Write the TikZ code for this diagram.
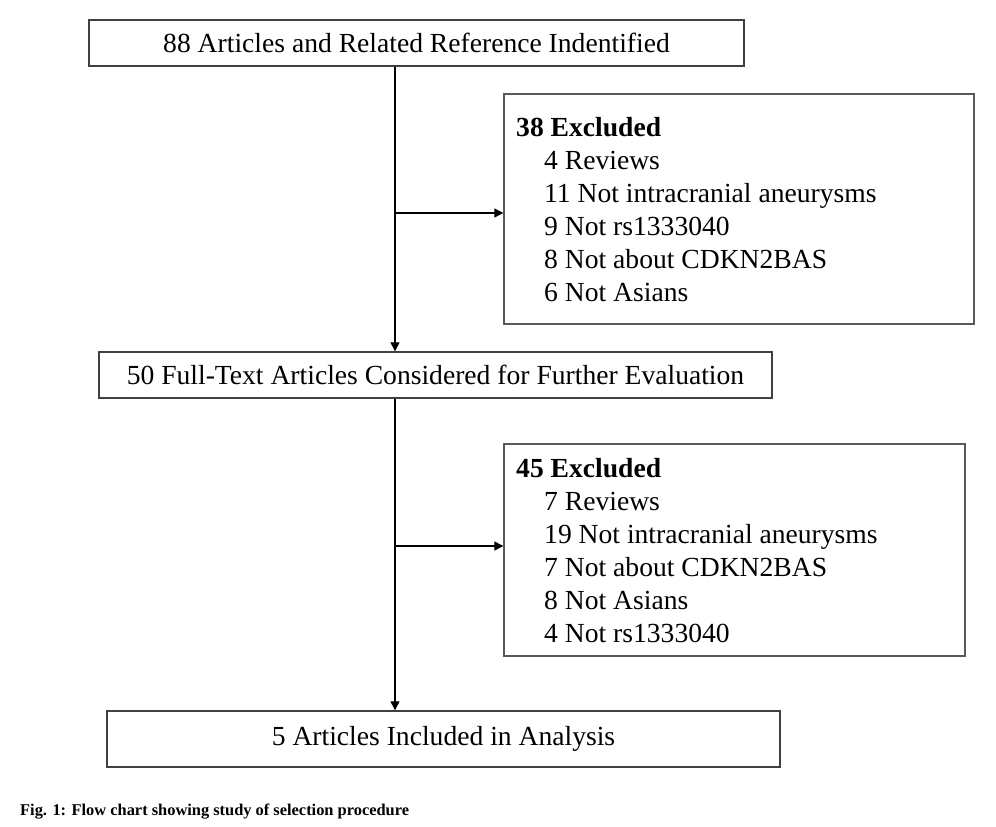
\documentclass[tikz,border=0pt]{standalone}
\usepackage{fontspec}
\setmainfont{Liberation Serif}
\usetikzlibrary{arrows.meta}
\begin{document}
\begin{tikzpicture}[x=1pt,y=-1pt,
  box/.style={draw=black!75, line width=1.4pt, rectangle, inner sep=0pt, font=\fontsize{27.6}{32}\selectfont},
  exbox/.style={draw=black!65, line width=1.4pt, rectangle, inner sep=0pt},
  item/.style={anchor=base west, inner sep=0pt, font=\fontsize{27.6}{32}\selectfont},
  conn/.style={line width=1.3pt, -{Triangle[length=9pt,width=9pt]}}]
\useasboundingbox (0,0) rectangle (996,827);
\node[box, minimum width=655pt, minimum height=46pt] (b1) at (416.5,43) {88 Articles and Related Reference Indentified};
\node[exbox, minimum width=470pt, minimum height=230pt] (e1) at (739,209) {};
\node[box, minimum width=673pt, minimum height=46pt] (b2) at (435.5,375) {50 Full-Text Articles Considered for Further Evaluation};
\node[exbox, minimum width=461pt, minimum height=212pt] (e2) at (734.5,550) {};
\node[box, minimum width=673pt, minimum height=56pt] (b3) at (443.5,739) {5 Articles Included in Analysis};
% texts box 38
\node[item, font=\fontsize{27.6}{32}\selectfont\bfseries] (t10) at (516,136) {38 Excluded};
\node[item] (t11) at (544,169) {4 Reviews};
\node[item] (t12) at (544,202) {11 Not intracranial aneurysms};
\node[item] (t13) at (544,235) {9 Not rs1333040};
\node[item] (t14) at (544,268) {8 Not about CDKN2BAS};
\node[item] (t15) at (544,301) {6 Not Asians};
% texts box 45
\node[item, font=\fontsize{27.6}{32}\selectfont\bfseries] (t20) at (516,477) {45 Excluded};
\node[item] (t21) at (544,510) {7 Reviews};
\node[item] (t22) at (544,543) {19 Not intracranial aneurysms};
\node[item] (t23) at (544,576) {7 Not about CDKN2BAS};
\node[item] (t24) at (544,609) {8 Not Asians};
\node[item] (t25) at (544,642) {4 Not rs1333040};
% connectors
\coordinate (j1) at (395,213);
\coordinate (j2) at (395,546);
\draw[conn] (b1.south -| j1) -- (b2.north -| j1);
\draw[conn] (j1) -- (j1 -| e1.west);
\draw[conn] (b2.south -| j2) -- (b3.north -| j2);
\draw[conn] (j2) -- (j2 -| e2.west);
% caption
\node[anchor=base west, inner sep=0pt, font=\fontsize{16.4}{19}\selectfont\bfseries] (cap) at (20,815) {Fig. 1: Flow chart showing study of selection procedure};
\end{tikzpicture}
\end{document}
